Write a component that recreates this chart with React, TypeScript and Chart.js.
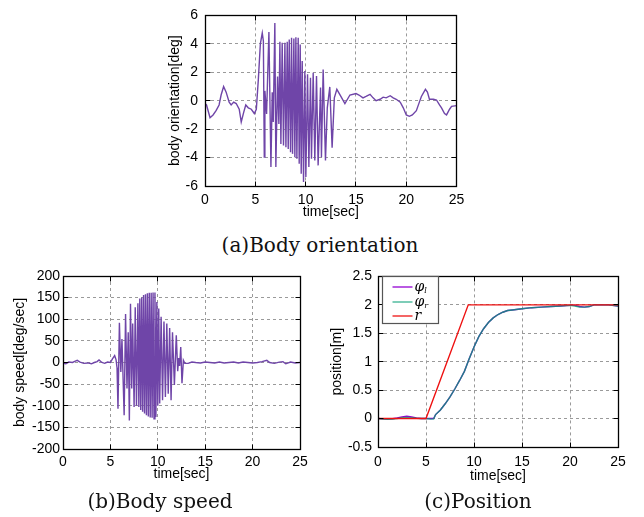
import React, { useEffect, useRef } from "react";
import { Chart, registerables } from "chart.js";

Chart.register(...registerables);

// ---------- data ----------
const TIME_TICKS = [0, 5, 10, 15, 20, 25];

// (a) body orientation [deg] : [time, value]
const orientation: [number, number][] = [
  [0, -0.2], [0.15, -0.3], [0.5, -1.2], [0.8, -1.0], [1.1, -0.7], [1.4, -0.3], [1.6, 0.4], [1.85, 1.0],
  [2.1, 0.6], [2.4, -0.1], [2.6, -0.3], [2.85, -0.1], [3.1, -0.2], [3.4, -0.6], [3.6, -1.5], [3.85, -0.8],
  [4.05, -0.3], [4.3, -0.5], [4.6, -0.6], [4.9, -0.9], [5.1, -0.6], [5.3, 1.5], [5.5, 4.0], [5.69, 4.76],
  [5.8, 4.2], [5.89, -3.97], [5.95, 0.69], [6.12, -0.94], [6.35, 4.83], [6.55, -4.67], [6.68, 0.6],
  [6.78, -1.5], [6.94, 5.46], [7.04, -4.67], [7.21, 1.7], [7.34, -1.64], [7.44, 4.14], [7.54, -3.04],
  [7.67, 4.07], [7.8, -3.15], [7.94, 4.07], [8.04, -3.27], [8.17, 4.14], [8.27, -3.39], [8.37, 4.3],
  [8.5, -3.62], [8.6, 4.42], [8.7, -3.74], [8.83, 4.37], [8.93, -3.97], [9.03, 4.46], [9.13, -4.09],
  [9.26, 4.42], [9.36, -4.44], [9.46, 3.95], [9.56, -5.14], [9.66, 2.79], [9.79, -5.72], [9.92, 2.09],
  [10.02, -5.37], [10.19, 1.86], [10.32, -4.67], [10.48, 1.62], [10.58, -4.09], [10.75, 1.97],
  [10.91, -4.2], [11.08, 1.74], [11.24, -4.55], [11.48, 0.92], [11.57, -3.97], [11.74, 2.2],
  [11.97, -4.2], [12.15, -0.5], [12.4, 0.97], [12.63, -3.3], [12.85, 0.2], [13.1, 0.8], [13.5, 0.3],
  [13.9, -0.2], [14.4, 0.4], [15.0, 0.5], [15.3, 0.4], [15.7, 0.2], [16.0, 0.3], [16.4, 0.45],
  [16.7, 0.2], [17.0, 0.0], [17.4, 0.1], [17.7, 0.25], [18.0, 0.2], [18.4, 0.35], [18.7, 0.2],
  [19.0, 0.1], [19.4, -0.1], [19.7, -0.5], [20.0, -1.0], [20.3, -1.1], [20.6, -1.0], [21.0, -0.7],
  [21.3, -0.1], [21.5, 0.3], [21.9, 0.8], [22.1, 0.6], [22.3, 0.1], [22.7, 0.1], [23.0, 0.05],
  [23.3, -0.3], [23.5, -0.5], [23.8, -0.9], [24.0, -1.0], [24.3, -0.6], [24.5, -0.4], [25.0, -0.35],
];

// (b) body speed [deg/sec] : [time, value]
const speed: [number, number][] = [
  [0, -2], [0.3, -3], [0.6, 1], [1.0, 0], [1.3, 3], [1.5, 5], [1.8, 1], [2.2, -2], [2.6, -1], [3.0, -3],
  [3.3, 0], [3.6, 2], [3.8, 6], [4.1, 0], [4.4, -2], [4.7, 1], [5.0, 0], [5.2, 8], [5.45, 16], [5.6, 6],
  [5.7, -12], [5.8, -107], [5.95, 92], [6.1, -22], [6.22, 54], [6.45, -122], [6.6, 112], [6.75, -60],
  [6.88, 70], [7.0, -134], [7.12, 136], [7.25, -60], [7.35, 90], [7.5, -103], [7.62, 128], [7.75, -100],
  [7.9, 137], [8.0, -103], [8.1, 148], [8.2, -110], [8.3, 150], [8.4, -114], [8.5, 156], [8.6, -118],
  [8.7, 158], [8.8, -122], [8.9, 160], [9.0, -125], [9.1, 161], [9.2, -127], [9.3, 161], [9.4, -128],
  [9.5, 162], [9.6, -130], [9.7, 162], [9.8, -126], [9.9, 140], [10.0, -100], [10.1, 125], [10.2, -95],
  [10.35, 106], [10.5, -87], [10.65, 95], [10.8, -80], [10.95, 90], [11.1, -72], [11.25, 80], [11.4, -87],
  [11.55, 70], [11.75, -52], [11.95, 63], [12.1, -20], [12.2, 10], [12.3, -8], [12.42, 36], [12.55, -48],
  [12.7, 5], [12.85, -2], [13.2, -2], [13.6, 1], [14.0, 0], [14.5, -1], [15.0, 1], [15.5, 0], [16.0, -1],
  [16.5, 1], [17.0, -1], [17.5, 0], [18.0, 1], [18.5, -1], [19.0, 1], [19.5, 0], [20.0, -1], [20.5, 0],
  [21.0, 2], [21.5, 5], [21.8, 0], [22.3, -2], [22.8, 1], [23.2, 2], [23.5, -3], [24.0, 1], [24.5, -1],
  [25.0, 0],
];

// (c) position [m] : [time, value]
const phiL: [number, number][] = [
  [0, 0], [0.5, -0.005], [1, -0.008], [1.5, -0.004], [2, 0.01], [2.5, 0.03], [3, 0.04], [3.5, 0.03],
  [4, 0.01], [4.5, 0.0], [5, 0], [5.5, 0], [5.8, 0.0], [6, 0.07], [6.5, 0.15], [7, 0.26], [7.5, 0.38],
  [8, 0.52], [8.5, 0.67], [9, 0.83], [9.5, 1.05], [10, 1.26], [10.5, 1.44], [11, 1.58], [11.5, 1.69],
  [12, 1.77], [12.5, 1.83], [13, 1.87], [13.5, 1.9], [14, 1.91], [15, 1.93], [16, 1.95], [17, 1.96],
  [18, 1.97], [19, 1.98], [20, 1.99], [20.5, 1.99], [21, 1.97], [21.5, 1.96], [22, 1.97], [22.5, 2.0],
  [23, 2.0], [24, 2.0], [25, 1.98],
];
const phiR: [number, number][] = [
  [0, 0], [0.5, -0.008], [1, -0.015], [1.5, -0.01], [2, 0.0], [2.5, 0.015], [3, 0.02], [3.5, 0.015],
  [4, 0.005], [4.5, 0.0], [5, 0], [5.5, -0.01], [5.8, -0.005], [6, 0.07], [6.5, 0.15], [7, 0.26],
  [7.5, 0.38], [8, 0.52], [8.5, 0.67], [9, 0.83], [9.5, 1.05], [10, 1.26], [10.5, 1.44], [11, 1.58],
  [11.5, 1.69], [12, 1.77], [12.5, 1.83], [13, 1.87], [13.5, 1.9], [14, 1.91], [15, 1.93], [16, 1.95],
  [17, 1.96], [18, 1.97], [19, 1.98], [20, 1.99], [20.5, 1.98], [21, 1.96], [21.5, 1.96], [22, 1.97],
  [22.5, 2.0], [23, 2.0], [24, 2.0], [25, 1.98],
];
const reference: [number, number][] = [[0, 0], [5, 0], [9.4, 2], [25, 2]];

const LABEL_PHI_L = "φl";
const LABEL_PHI_R = "φr";
const LABEL_R = "r";

// ---------- styles ----------
const AXIS_FONT = { family: '"Liberation Sans", Arial, sans-serif', size: 14 };
const PURPLE = "#6f45a8";
const VIOLET = "#9400d3";
const GREEN = "rgba(0,158,115,0.78)";
const RED = "#ee1111";

function alignPx(p: number) {
  return Math.round(p - 0.5) + 0.5;
}

const framePlugin = {
  id: "frame",
  afterDraw(chart: any) {
    const { ctx, chartArea: a, scales } = chart;
    const l = alignPx(a.left), r = alignPx(a.right), t = alignPx(a.top), b = alignPx(a.bottom);
    ctx.save();
    ctx.setLineDash([]);
    ctx.strokeStyle = "#000";
    ctx.lineWidth = 1;
    ctx.beginPath();
    const L = 5;
    scales.x.ticks.forEach((tk: any) => {
      const px = alignPx(scales.x.getPixelForValue(tk.value));
      ctx.moveTo(px, b); ctx.lineTo(px, b - L);
      ctx.moveTo(px, t); ctx.lineTo(px, t + L);
    });
    scales.y.ticks.forEach((tk: any) => {
      const py = alignPx(scales.y.getPixelForValue(tk.value));
      ctx.moveTo(l, py); ctx.lineTo(l + L, py);
      ctx.moveTo(r, py); ctx.lineTo(r - L, py);
    });
    ctx.stroke();
    ctx.lineWidth = 1.3;
    ctx.strokeRect(l, t, r - l, b - t);
    ctx.restore();
  },
};

const legendPlugin = {
  id: "boxLegend",
  afterDraw(chart: any) {
    const { ctx, chartArea: a } = chart;
    const x0 = Math.round(a.left + 4) + 0.5;
    const y0 = Math.round(a.top) + 0.5;
    const w = 56, h = 47;
    ctx.save();
    ctx.setLineDash([]);
    ctx.fillStyle = "#fff";
    ctx.fillRect(x0, y0, w, h);
    ctx.strokeStyle = "#555";
    ctx.lineWidth = 1.2;
    ctx.strokeRect(x0, y0, w, h);
    const rows = [
      { y: 10.5, color: VIOLET, main: LABEL_PHI_L.charAt(0), sub: LABEL_PHI_L.slice(1) },
      { y: 25.5, color: GREEN, main: LABEL_PHI_R.charAt(0), sub: LABEL_PHI_R.slice(1) },
      { y: 39.5, color: RED, main: LABEL_R, sub: "" },
    ];
    rows.forEach((row) => {
      const yy = y0 + row.y;
      ctx.strokeStyle = row.color;
      ctx.lineWidth = 1.3;
      ctx.beginPath();
      ctx.moveTo(x0 + 10, yy);
      ctx.lineTo(x0 + 30, yy);
      ctx.stroke();
      ctx.fillStyle = "#000";
      ctx.textBaseline = "middle";
      ctx.textAlign = "left";
      ctx.font = 'italic 14px "DejaVu Serif", serif';
      ctx.fillText(row.main, x0 + 32, yy);
      if (row.sub) {
        const mw = ctx.measureText(row.main).width;
        ctx.font = 'italic 8px "DejaVu Serif", serif';
        ctx.fillText(row.sub, x0 + 32 + mw, yy + 4);
      }
    });
    ctx.restore();
  },
};

type Pad = { left: number; right: number; top: number; bottom: number };

function makeConfig(opts: {
  datasets: any[];
  yMin: number; yMax: number; yStep: number; yTitle: string;
  pad: Pad; yWidth: number; xHeight: number;
  yTitlePad: number; xTitlePad: number; yTickPad: number; xTickPad: number;
  legend?: boolean;
}) {
  return {
    type: "line" as const,
    data: { datasets: opts.datasets },
    options: {
      animation: false,
      responsive: false,
      devicePixelRatio: 1,
      layout: { padding: opts.pad },
      elements: { point: { radius: 0 }, line: { tension: 0, borderWidth: 1.4 } },
      plugins: { legend: { display: false }, tooltip: { enabled: false } },
      scales: {
        x: {
          type: "linear",
          min: 0, max: 25,
          afterBuildTicks: (s: any) => { s.ticks = TIME_TICKS.map((v) => ({ value: v })); },
          afterFit: (s: any) => { s.height = opts.xHeight; },
          ticks: { font: AXIS_FONT, color: "#000", padding: opts.xTickPad, maxRotation: 0, callback: (v: any) => String(v) },
          grid: { color: "#9a9a9a", drawTicks: false, lineWidth: 1 },
          border: { display: false, dash: [3, 3] },
          title: { display: true, text: "time[sec]", font: AXIS_FONT, color: "#000", padding: { top: 0, bottom: opts.xTitlePad } },
        },
        y: {
          type: "linear",
          min: opts.yMin, max: opts.yMax,
          afterFit: (s: any) => { s.width = opts.yWidth; },
          ticks: { font: AXIS_FONT, color: "#000", padding: opts.yTickPad, stepSize: opts.yStep, callback: (v: any) => String(Math.round(v * 100) / 100) },
          grid: { color: "#9a9a9a", drawTicks: false, lineWidth: 1 },
          border: { display: false, dash: [3, 3] },
          title: { display: true, text: opts.yTitle, font: AXIS_FONT, color: "#000", padding: { top: opts.yTitlePad, bottom: 0 } },
        },
      },
    },
    plugins: opts.legend ? [framePlugin, legendPlugin] : [framePlugin],
  };
}

const toPts = (arr: [number, number][]) => arr.map(([x, y]) => ({ x, y }));

function ChartBox(props: { left: number; top: number; width: number; height: number; build: () => any }) {
  const ref = useRef<HTMLCanvasElement>(null);
  useEffect(() => {
    const chart = new Chart(ref.current as HTMLCanvasElement, props.build());
    return () => chart.destroy();
  }, []);
  return (
    <canvas
      ref={ref}
      width={props.width}
      height={props.height}
      style={{ position: "absolute", left: props.left, top: props.top, width: props.width, height: props.height }}
    />
  );
}

const captionStyle: React.CSSProperties = {
  position: "absolute",
  fontFamily: '"DejaVu Serif", serif',
  fontSize: 20,
  lineHeight: "20px",
  whiteSpace: "nowrap",
  transform: "translateX(-50%)",
  color: "#111",
};

export default function App() {
  return (
    <div style={{ position: "absolute", left: 0, top: 0, width: 644, height: 517, background: "#fff", overflow: "hidden" }}>
      <ChartBox
        left={150} top={0} width={320} height={232}
        build={() =>
          makeConfig({
            datasets: [{ data: toPts(orientation), borderColor: PURPLE }],
            yMin: -6, yMax: 6, yStep: 2, yTitle: "body orientation[deg]",
            pad: { left: 0, right: 13, top: 14, bottom: 0 },
            yWidth: 55, xHeight: 46, yTitlePad: 17, xTitlePad: 11.6, yTickPad: 7, xTickPad: 5.6,
          })
        }
      />
      <ChartBox
        left={0} top={262} width={320} height={228}
        build={() =>
          makeConfig({
            datasets: [{ data: toPts(speed), borderColor: PURPLE }],
            yMin: -200, yMax: 200, yStep: 50, yTitle: "body speed[deg/sec]",
            pad: { left: 0, right: 20, top: 14, bottom: 0 },
            yWidth: 63, xHeight: 41, yTitlePad: 12.2, xTitlePad: 7.6, yTickPad: 3, xTickPad: 4.3,
          })
        }
      />
      <ChartBox
        left={320} top={262} width={324} height={228}
        build={() =>
          makeConfig({
            datasets: [
              { data: toPts(phiL), borderColor: VIOLET, label: LABEL_PHI_L, order: 2 },
              { data: toPts(phiR), borderColor: GREEN, label: LABEL_PHI_R, order: 1 },
              { data: toPts(reference), borderColor: RED, label: LABEL_R, order: 0 },
            ],
            yMin: -0.5, yMax: 2.5, yStep: 0.5, yTitle: "position[m]",
            pad: { left: 0, right: 26, top: 11, bottom: 0 },
            yWidth: 58, xHeight: 43, yTitlePad: 8.3, xTitlePad: 5.6, yTickPad: 6, xTickPad: 6.3,
            legend: true,
          })
        }
      />
      <div style={{ ...captionStyle, left: 320, top: 235 }}>(a)Body orientation</div>
      <div style={{ ...captionStyle, left: 160, top: 491 }}>(b)Body speed</div>
      <div style={{ ...captionStyle, left: 478, top: 491 }}>(c)Position</div>
    </div>
  );
}
